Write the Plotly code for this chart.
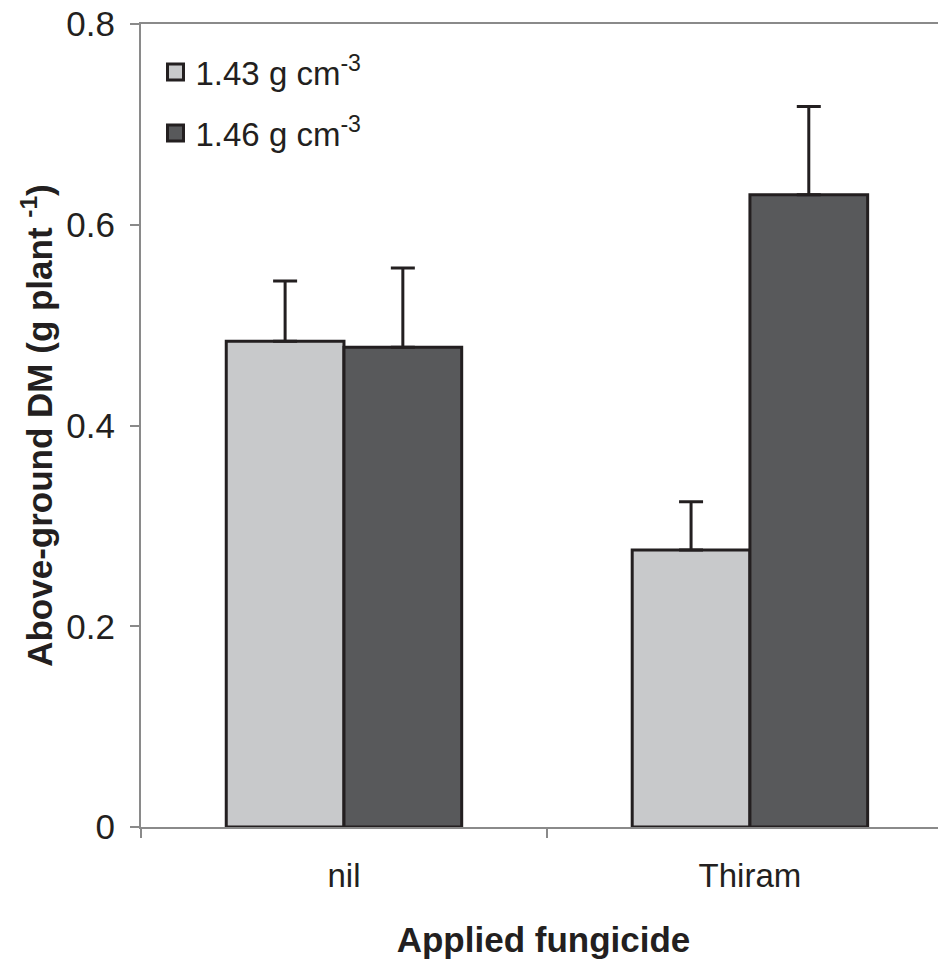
import plotly.graph_objects as go

categories = ["nil", "Thiram"]
series_names = ["1.43 g cm<sup>-3</sup>", "1.46 g cm<sup>-3</sup>"]
values_143 = [0.484, 0.276]
errors_143 = [0.060, 0.048]
values_146 = [0.478, 0.630]
errors_146 = [0.079, 0.088]
y_ticks = [0, 0.2, 0.4, 0.6, 0.8]
y_tick_labels = ["0", "0.2", "0.4", "0.6", "0.8"]

light = "#c8c9cb"
dark = "#58595b"
edge = "#231f20"
font_family = "Liberation Sans, Arial, sans-serif"

fig = go.Figure()
for i, (name, vals, errs, col) in enumerate([(series_names[0], values_143, errors_143, light),
                                             (series_names[1], values_146, errors_146, dark)]):
    fig.add_trace(go.Bar(
        x=categories, y=vals, name=name, showlegend=False,
        marker=dict(color=col, line=dict(color=edge, width=3)),
        error_y=dict(type="data", array=errs, symmetric=False, arrayminus=[0]*len(errs),
                     color=edge, thickness=3, width=12),
    ))
    fig.add_trace(go.Scatter(
        x=[None], y=[None], mode="markers", name=name, showlegend=True,
        legendgroup="g%d" % i,
        marker=dict(symbol="square", size=20, color=col, line=dict(color=edge, width=3)),
    ))

fig.update_layout(
    width=938, height=953,
    margin=dict(l=133, r=0, t=16, b=134),
    plot_bgcolor="white", paper_bgcolor="white",
    font=dict(family=font_family, color="#231f20", size=33),
    barmode="group", bargap=0.42, bargroupgap=0,
    showlegend=True,
    legend=dict(x=0.018, y=0.975, xanchor="left", yanchor="top",
                bgcolor="rgba(0,0,0,0)", font=dict(size=33),
                traceorder="grouped", tracegroupgap=15, itemwidth=30),
    xaxis=dict(range=[-0.5, 1.483], showline=True, linecolor="#8a8a8a", linewidth=2,
               mirror=True, ticks="outside", tickson="boundaries", ticklen=9,
               tickcolor="#8a8a8a", tickwidth=2, showgrid=False, automargin=False,
               tickfont=dict(size=33), ticklabelstandoff=18,
               title=dict(text="<b>Applied fungicide</b>", font=dict(size=35), standoff=35)),
    yaxis=dict(range=[0, 0.8001], tickvals=y_ticks, ticktext=y_tick_labels,
               showline=True, linecolor="#8a8a8a", linewidth=2, ticks="outside",
               ticklen=9, tickcolor="#8a8a8a", tickwidth=2, showgrid=False, zeroline=False,
               automargin=False,
               tickfont=dict(size=35), ticklabelstandoff=8, ticklabeloverflow="allow",
               title=dict(text="<b>Above-ground DM (g plant <sup>-1</sup>)</b>",
                          font=dict(size=35), standoff=3)),
)

fig.write_html("out.html")
